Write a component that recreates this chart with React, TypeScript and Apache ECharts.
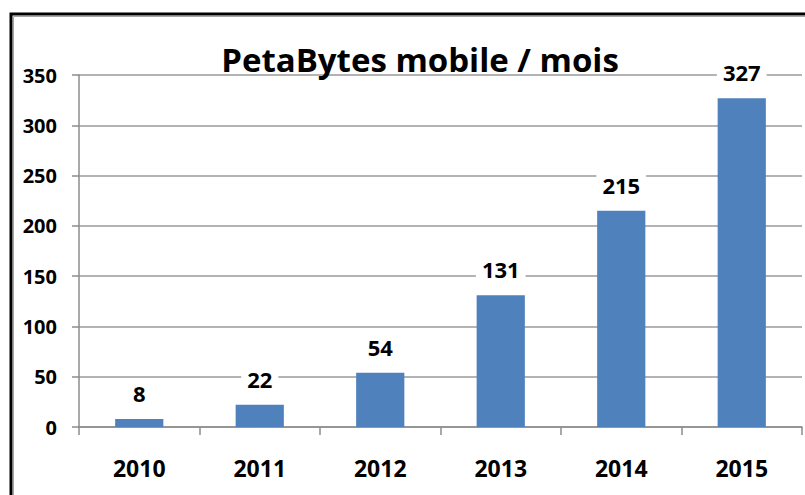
import React, { useEffect, useRef } from "react";
import * as echarts from "echarts";

const years = ["2010", "2011", "2012", "2013", "2014", "2015"];
const petabytes = [8, 22, 54, 131, 215, 327];
const titleText = "PetaBytes mobile / mois";

const FONT = "'Open Sans', 'Liberation Sans', Arial, sans-serif";

export default function App() {
  const ref = useRef<HTMLDivElement>(null);
  useEffect(() => {
    document.body.style.margin = "0";
    const chart = echarts.init(ref.current!, null, { renderer: "svg" });
    chart.setOption({
      animation: false,
      backgroundColor: "#ffffff",
      title: {
        text: titleText,
        left: 415,
        textAlign: "center",
        top: 38,
        textStyle: { fontFamily: FONT, fontWeight: "bold", fontSize: 33, color: "#000" },
      },
      graphic: [
        { type: "rect", shape: { x: 11, y: 14, width: 900, height: 700 }, style: { fill: "none", stroke: "#000", lineWidth: 3 }, silent: true },
        { type: "rect", shape: { x: 13.5, y: 16.5, width: 900, height: 700 }, style: { fill: "none", stroke: "#a6a6a6", lineWidth: 1 }, silent: true },
      ],
      grid: { left: 79, right: 3, top: 75, bottom: 68 },
      xAxis: {
        type: "category",
        data: years,
        axisLine: { lineStyle: { color: "#8c8c8c", width: 1.5 } },
        axisTick: { show: true, length: 8, lineStyle: { color: "#8c8c8c", width: 1.5 } },
        axisLabel: { margin: 29, fontFamily: FONT, fontWeight: "bold", fontSize: 23, color: "#000" },
      },
      yAxis: {
        type: "value",
        min: 0,
        max: 350,
        interval: 50,
        axisLine: { show: true, lineStyle: { color: "#8c8c8c", width: 1.5 } },
        axisTick: { show: true, length: 7, lineStyle: { color: "#8c8c8c", width: 1.5 } },
        splitLine: { lineStyle: { color: "#9a9a9a", width: 1.5 } },
        axisLabel: { margin: 22, fontFamily: FONT, fontWeight: "bold", fontSize: 20, color: "#000" },
      },
      series: [
        {
          type: "bar",
          data: petabytes,
          barWidth: "40%",
          itemStyle: { color: "#4F81BD" },
          label: {
            show: true,
            position: "top",
            distance: 15,
            fontFamily: FONT,
            fontWeight: "bold",
            fontSize: 22,
            color: "#000",
            backgroundColor: "#fff",
            padding: [0, 6],
          },
        },
      ],
    });
    return () => chart.dispose();
  }, []);
  return <div ref={ref} style={{ position: "fixed", left: 0, top: 0, width: 805, height: 495 }} />;
}
